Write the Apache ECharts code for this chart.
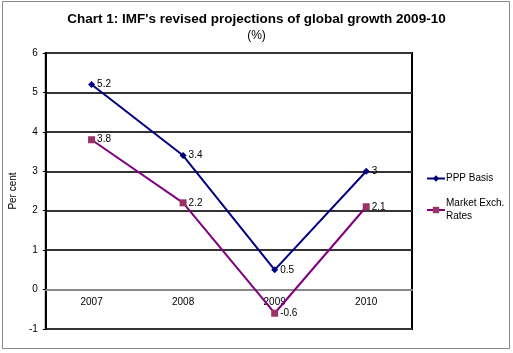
<!DOCTYPE html>
<html><head><meta charset="utf-8">
<script src="https://cdn.jsdelivr.net/npm/echarts@6/dist/echarts.min.js"></script>
<style>html,body{margin:0;padding:0;background:#fff}#c{width:513px;height:353px}</style>
</head><body><div id="c"></div>
<script>
const categories = ['2007','2008','2009','2010'];
const pppBasis = [5.2, 3.4, 0.5, 3];
const marketRates = [3.8, 2.2, -0.6, 2.1];
const yTicks = [-1, 0, 1, 2, 3, 4, 5, 6];

const W = 513, H = 353, gTop = 53, gBottom = 24;
const yMin = yTicks[0], yMax = yTicks[yTicks.length-1];
const zeroOffset = -((H - gTop - gBottom) * (0 - yMin) / (yMax - yMin));

const chart = echarts.init(document.getElementById('c'), null, {renderer:'canvas'});
const font = 'Arial, "Liberation Sans", sans-serif';
chart.setOption({
  animation: false,
  backgroundColor: '#fff',
  title: [
    {text: "Chart 1: IMF's revised projections of global growth 2009-10", left: 'center', top: 7,
     textStyle: {fontFamily: font, fontSize: 13.5, fontWeight: 'bold', color: '#000'}},
    {text: '(%)', left: 'center', top: 25, textStyle: {fontFamily: font, fontSize: 12, fontWeight: 'normal', color: '#000'}}
  ],
  graphic: [{type: 'rect', shape: {x: 2.5, y: 1.5, width: 507, height: 347}, style: {fill: 'none', stroke: '#888', lineWidth: 1}, silent: true}],
  grid: {left: 40, top: gTop, right: 101, bottom: gBottom, show: true, borderColor: '#000', borderWidth: 2, backgroundColor: 'transparent'},
  legend: {
    orient: 'vertical', left: 421, top: 167, itemGap: 12, itemWidth: 18, itemHeight: 8,
    textStyle: {fontFamily: font, fontSize: 10, color: '#000', lineHeight: 13, padding: [0,0,0,-4]},
    data: [{name: 'PPP Basis'}, {name: 'Market Exch.\nRates'}]
  },
  xAxis: {
    type: 'category', data: categories, boundaryGap: true, offset: zeroOffset,
    axisLine: {onZero: false, lineStyle: {color: '#888', width: 2}},
    axisTick: {show: false},
    axisLabel: {fontFamily: font, fontSize: 10, color: '#000', margin: 8}
  },
  yAxis: {
    type: 'value', min: yMin, max: yMax, interval: 1,
    name: 'Per cent', nameLocation: 'middle', nameGap: 24,
    nameTextStyle: {fontFamily: font, fontSize: 10, color: '#000'},
    axisLine: {show: true, lineStyle: {color: '#000', width: 2}},
    axisTick: {show: true, length: 3, lineStyle: {color: '#000'}},
    axisLabel: {fontFamily: font, fontSize: 10, color: '#000', margin: 8},
    splitLine: {show: true, lineStyle: {color: '#333', width: 2}}
  },
  series: [
    {name: 'PPP Basis', type: 'line', data: pppBasis, symbol: 'diamond', symbolSize: 7,
     itemStyle: {color: '#000080'}, lineStyle: {color: '#000080', width: 2},
     label: {show: true, position: 'right', distance: 2, fontFamily: font, fontSize: 10, color: '#000'}},
    {name: 'Market Exch.\nRates', type: 'line', data: marketRates, symbol: 'rect', symbolSize: 7,
     itemStyle: {color: '#993366'}, lineStyle: {color: '#800080', width: 2},
     label: {show: true, position: 'right', distance: 2, fontFamily: font, fontSize: 10, color: '#000'}}
  ]
});
</script></body></html>
